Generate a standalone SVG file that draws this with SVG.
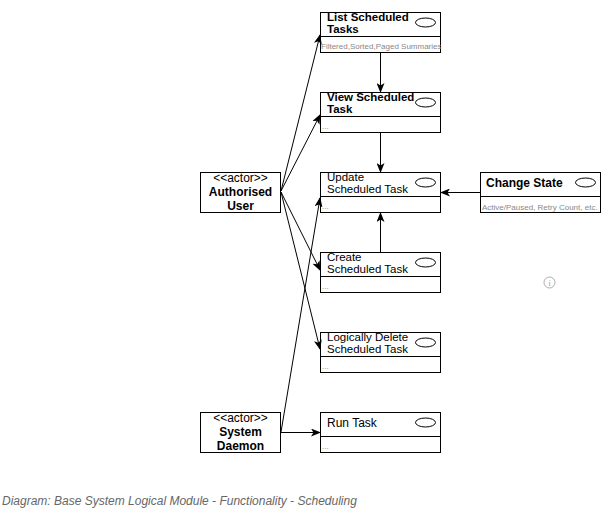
<svg xmlns="http://www.w3.org/2000/svg" width="602" height="513" viewBox="0 0 602 513">
<style>
.box{fill:#fff;stroke:#000;stroke-width:1}
.div{stroke:#000;stroke-width:1}
.ell{fill:#fff;stroke:#000;stroke-width:1}
.t{font-family:"Liberation Sans",Arial,sans-serif;font-size:12px;fill:#000}
.h{font-size:11.5px}
.b{font-weight:bold}
.c{text-anchor:middle}
.s{font-family:"Liberation Sans",Arial,sans-serif;font-size:8px;fill:#888}
.e{stroke:#000;stroke-width:1;fill:none;marker-end:url(#arr)}
.foot{font-family:"Liberation Sans",Arial,sans-serif;font-size:12px;font-style:italic;fill:#666}
</style>
<defs>
<marker id="arr" viewBox="0 0 10 8" refX="9" refY="4" markerWidth="10" markerHeight="8" markerUnits="userSpaceOnUse" orient="auto">
<path d="M0,0 L10,4 L0,8 L2.5,4 Z" fill="#000"/>
</marker>
</defs>
<rect width="602" height="513" fill="#fff"/>

<g id="list-scheduled-tasks">
<rect class="box" x="320.5" y="12.5" width="120" height="40"/>
<line class="div" x1="320.5" y1="36.5" x2="440.5" y2="36.5"/>
<ellipse class="ell" cx="425.5" cy="22.5" rx="10" ry="4.5"/>
<text class="t h b" x="327" y="21">List Scheduled</text>
<text class="t h b" x="327" y="33">Tasks</text>
<text class="s" x="321" y="49">Filtered,Sorted,Paged Summaries</text>
</g>

<g id="view-scheduled-task">
<rect class="box" x="320.5" y="92.5" width="120" height="40"/>
<line class="div" x1="320.5" y1="116.5" x2="440.5" y2="116.5"/>
<ellipse class="ell" cx="425.5" cy="102.5" rx="10" ry="4.5"/>
<text class="t h b" x="327" y="101">View Scheduled</text>
<text class="t h b" x="327" y="113">Task</text>
<text class="s" x="322" y="129">...</text>
</g>

<g id="update-scheduled-task">
<rect class="box" x="320.5" y="172.5" width="120" height="40"/>
<line class="div" x1="320.5" y1="196.5" x2="440.5" y2="196.5"/>
<ellipse class="ell" cx="425.5" cy="182.5" rx="10" ry="4.5"/>
<text class="t h" x="327" y="181">Update</text>
<text class="t h" x="327" y="193">Scheduled Task</text>
<text class="s" x="322" y="209">...</text>
</g>

<g id="create-scheduled-task">
<rect class="box" x="320.5" y="252.5" width="120" height="40"/>
<line class="div" x1="320.5" y1="276.5" x2="440.5" y2="276.5"/>
<ellipse class="ell" cx="425.5" cy="262.5" rx="10" ry="4.5"/>
<text class="t h" x="327" y="261">Create</text>
<text class="t h" x="327" y="273">Scheduled Task</text>
<text class="s" x="322" y="289">...</text>
</g>

<g id="logically-delete-scheduled-task">
<rect class="box" x="320.5" y="332.5" width="120" height="40"/>
<line class="div" x1="320.5" y1="356.5" x2="440.5" y2="356.5"/>
<ellipse class="ell" cx="425.5" cy="342.5" rx="10" ry="4.5"/>
<text class="t h" x="327" y="341">Logically Delete</text>
<text class="t h" x="327" y="353">Scheduled Task</text>
<text class="s" x="322" y="369">...</text>
</g>

<g id="run-task">
<rect class="box" x="320.5" y="412.5" width="120" height="40"/>
<line class="div" x1="320.5" y1="436.5" x2="440.5" y2="436.5"/>
<ellipse class="ell" cx="425.5" cy="422.5" rx="10" ry="4.5"/>
<text class="t" x="327" y="426.5">Run Task</text>
<text class="s" x="322" y="449">...</text>
</g>

<g id="change-state">
<rect class="box" x="480.5" y="172.5" width="120" height="40"/>
<line class="div" x1="480.5" y1="196.5" x2="600.5" y2="196.5"/>
<ellipse class="ell" cx="585.5" cy="182.5" rx="10" ry="4.5"/>
<text class="t b" x="486" y="187">Change State</text>
<text class="s" x="482" y="209.5">Active/Paused, Retry Count, etc.</text>
</g>

<g id="authorised-user">
<rect class="box" x="200.5" y="172.5" width="80" height="40"/>
<text class="t c" x="240.5" y="181.5">&lt;&lt;actor&gt;&gt;</text>
<text class="t b c" x="240.5" y="196">Authorised</text>
<text class="t b c" x="240.5" y="210">User</text>
</g>

<g id="system-daemon">
<rect class="box" x="200.5" y="412.5" width="80" height="40"/>
<text class="t c" x="240.5" y="421.5">&lt;&lt;actor&gt;&gt;</text>
<text class="t b c" x="240.5" y="436">System</text>
<text class="t b c" x="240.5" y="450">Daemon</text>
</g>

<g id="connectors">
<line class="e" x1="281" y1="191" x2="320" y2="35"/>
<line class="e" x1="281" y1="191" x2="320" y2="115"/>
<line class="e" x1="281" y1="192" x2="320" y2="270"/>
<line class="e" x1="281" y1="192" x2="320" y2="349"/>
<line class="e" x1="281" y1="432" x2="320" y2="198"/>
<line class="e" x1="281" y1="432.5" x2="320" y2="432.5"/>
<line class="e" x1="380.5" y1="53" x2="380.5" y2="92"/>
<line class="e" x1="380.5" y1="133" x2="380.5" y2="172"/>
<line class="e" x1="380.5" y1="252" x2="380.5" y2="213"/>
<line class="e" x1="480" y1="192.5" x2="441" y2="192.5"/>
</g>

<g id="info-icon">
<circle cx="549.5" cy="282.5" r="5.5" fill="#fff" stroke="#aaa" stroke-width="1"/>
<text x="549.5" y="285.5" font-family="Liberation Serif,serif" font-size="8px" fill="#999" text-anchor="middle">i</text>
</g>

<text class="foot" x="2" y="505">Diagram: Base System Logical Module - Functionality - Scheduling</text>
</svg>
